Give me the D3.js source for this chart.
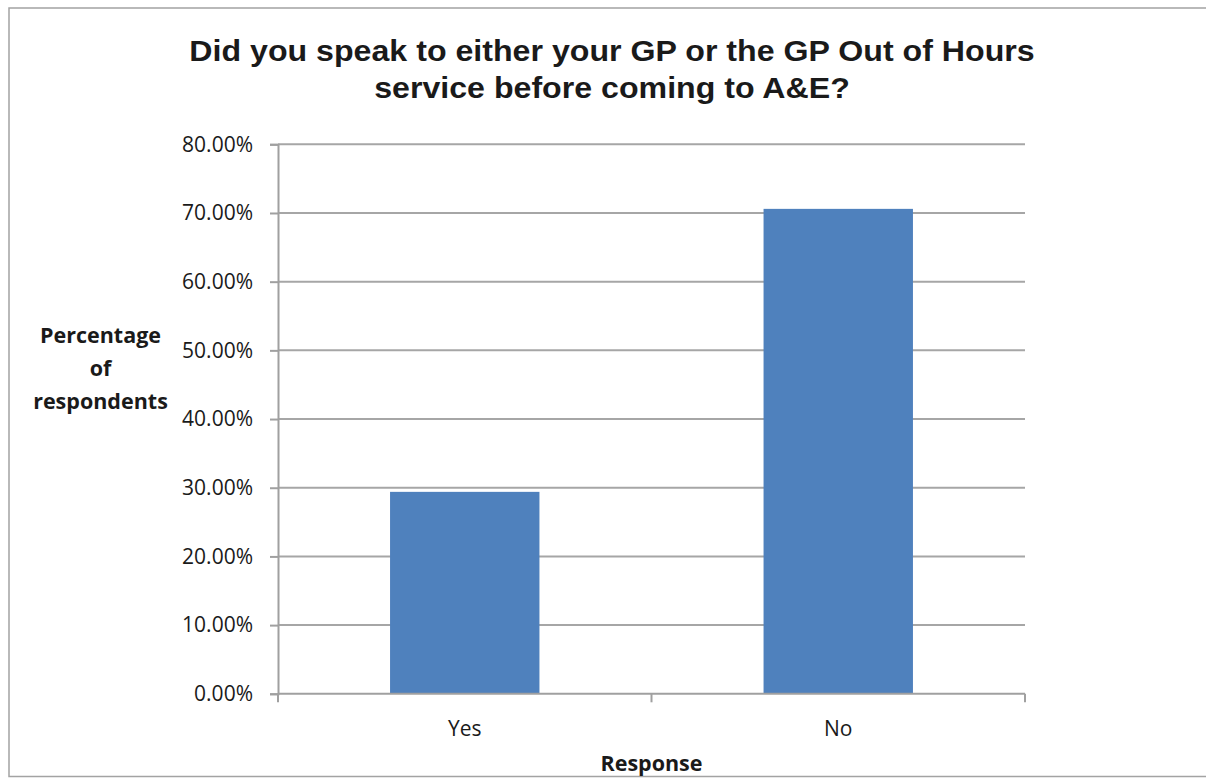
<!DOCTYPE html>
<html>
<head>
<meta charset="utf-8">
<script src="https://cdn.jsdelivr.net/npm/d3@7"></script>
<style>
  html, body { margin: 0; padding: 0; background: #ffffff; }
  svg { display: block; }
</style>
</head>
<body>
<svg id="chart" width="1206" height="778"></svg>
<script>
// Survey responses (share of respondents, %)
const categories = ["Yes", "No"];
const values = [29.4, 70.6];
const yTicks = [0, 10, 20, 30, 40, 50, 60, 70, 80];
const titleLines = ["Did you speak to either your GP or the GP Out of Hours", "service before coming to A&E?"];
const yTitleLines = ["Percentage", "of", "respondents"];
const xTitle = "Response";

const svg = d3.select("#chart");
const plot = { left: 278, right: 1025, top: 144.3, bottom: 693.8 };

const gridColor = "#a6a6a6";
const axisColor = "#a0a0a0";
const barColor = "#4f81bd";
const textColor = "#1a1a1a";
const labelFont = "'Open Sans', 'Noto Sans', sans-serif";

// outer frame
svg.append("rect")
  .attr("x", 9).attr("y", 8)
  .attr("width", 1205).attr("height", 768.5)
  .attr("fill", "#ffffff")
  .attr("stroke", "#a3a3a3").attr("stroke-width", 1.5);

const x = d3.scaleBand()
  .domain(categories)
  .range([plot.left, plot.right])
  .paddingInner(0.6)
  .paddingOuter(0.3);

const y = d3.scaleLinear()
  .domain([0, 80])
  .range([plot.bottom, plot.top]);

// horizontal gridlines
svg.append("g")
  .selectAll("line")
  .data(yTicks.filter(d => d > 0))
  .join("line")
  .attr("x1", plot.left).attr("x2", plot.right)
  .attr("y1", d => y(d)).attr("y2", d => y(d))
  .attr("stroke", gridColor).attr("stroke-width", 2);

// bars
svg.append("g")
  .selectAll("rect")
  .data(values)
  .join("rect")
  .attr("x", (d, i) => x(categories[i]))
  .attr("width", x.bandwidth())
  .attr("y", d => y(d))
  .attr("height", d => y(0) - y(d))
  .attr("fill", barColor);

// y axis
const yAxis = d3.axisLeft(y)
  .tickValues(yTicks)
  .tickSize(8)
  .tickPadding(17)
  .tickFormat(d => d.toFixed(2) + "%");

const gy = svg.append("g")
  .attr("transform", `translate(${plot.left},0)`)
  .call(yAxis);
gy.select(".domain").attr("stroke", axisColor).attr("stroke-width", 2);
gy.selectAll(".tick line").attr("stroke", axisColor).attr("stroke-width", 2);
gy.selectAll(".tick text")
  .attr("fill", textColor)
  .style("font-family", labelFont)
  .style("font-size", "21px");

// x axis: boundary ticks between categories
const xEdges = [plot.left, (plot.left + plot.right) / 2, plot.right];
const gx = svg.append("g");
gx.append("line")
  .attr("x1", plot.left).attr("x2", plot.right)
  .attr("y1", plot.bottom).attr("y2", plot.bottom)
  .attr("stroke", axisColor).attr("stroke-width", 2);
gx.selectAll("line.edge")
  .data(xEdges)
  .join("line")
  .attr("class", "edge")
  .attr("x1", d => d).attr("x2", d => d)
  .attr("y1", plot.bottom).attr("y2", plot.bottom + 8.5)
  .attr("stroke", axisColor).attr("stroke-width", 2);
gx.selectAll("text")
  .data(categories)
  .join("text")
  .attr("x", d => x(d) + x.bandwidth() / 2)
  .attr("y", 736)
  .attr("text-anchor", "middle")
  .attr("fill", textColor)
  .style("font-family", labelFont)
  .style("font-size", "21px")
  .text(d => d);

// chart title (slightly widened Arial bold)
svg.append("g")
  .attr("transform", "translate(612,0) scale(1.09,1)")
  .append("text")
  .attr("text-anchor", "middle")
  .attr("fill", textColor)
  .style("font-family", "'Liberation Sans', Arial, sans-serif")
  .style("font-weight", "bold")
  .style("font-size", "29.5px")
  .selectAll("tspan")
  .data(titleLines)
  .join("tspan")
  .attr("x", 0)
  .attr("y", (d, i) => 61 + i * 37)
  .text(d => d);

// y axis title
svg.append("text")
  .attr("text-anchor", "middle")
  .attr("fill", textColor)
  .style("font-family", labelFont)
  .style("font-weight", "bold")
  .style("font-size", "21.5px")
  .selectAll("tspan")
  .data(yTitleLines)
  .join("tspan")
  .attr("x", 100.5)
  .attr("y", (d, i) => 343 + i * 33)
  .text(d => d);

// x axis title
svg.append("text")
  .attr("x", (plot.left + plot.right) / 2)
  .attr("y", 771)
  .attr("text-anchor", "middle")
  .attr("fill", textColor)
  .style("font-family", labelFont)
  .style("font-weight", "bold")
  .style("font-size", "21.5px")
  .text(xTitle);
</script>
</body>
</html>
